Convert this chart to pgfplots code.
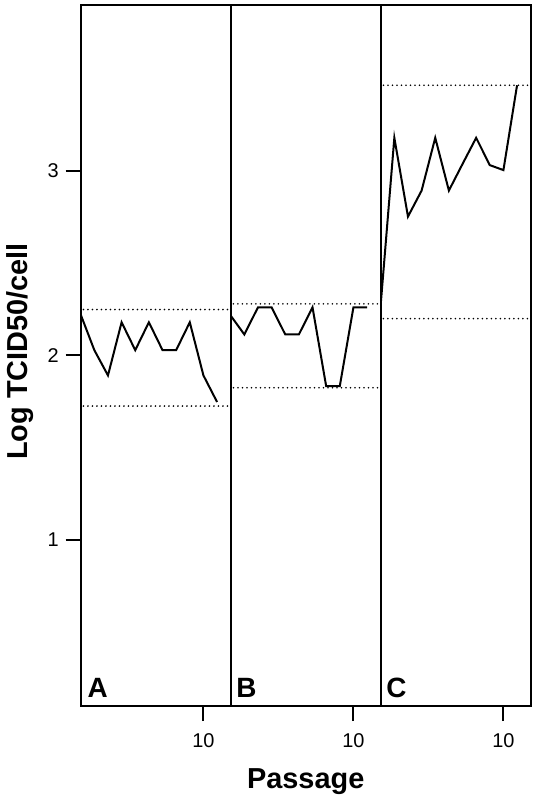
\documentclass[border=0pt]{standalone}
\usepackage{pgfplots}
\pgfplotsset{compat=1.18}
\usepgfplotslibrary{groupplots}
\usepackage{fontspec}
\setmainfont{Liberation Sans}

\pgfplotsset{
  panel/.style={
    scale only axis, width=75bp, height=350.5bp,
    xmin=1, xmax=12, ymin=0.1, ymax=3.9,
    xtick={10}, xticklabels={10},
    tick align=outside, major tick length=7.5bp,
    xtick pos=bottom, ytick pos=left,
    axis line style={line width=1bp},
    every tick/.style={black, line width=1bp},
    tick label style={font=\fontsize{10}{11}\selectfont},
    /pgf/number format/assume math mode=true,
    xticklabel style={yshift=-3bp},
  },
}
\tikzset{
  series/.style={black, line width=1bp, line join=miter, mark=none},
  band/.style={black, line width=0.9bp, line cap=round,
    dash pattern=on 0bp off 2.25bp, mark=none},
  tag/.style={font=\bfseries\fontsize{14}{16}\selectfont, anchor=base west,
    inner sep=0pt},
}

\begin{document}
\begin{tikzpicture}
\begin{groupplot}[
  group style={group size=3 by 1, horizontal sep=0pt},
  panel,
]
% A
\nextgroupplot[ytick={1,2,3}, yticklabels={1,2,3}]
\addplot[band] coordinates {(1.2,2.249) (12,2.249)};
\addplot[band] coordinates {(1.2,1.726) (12,1.726)};
\addplot[series] coordinates {
  (1,2.222) (2,2.029) (3,1.892) (4,2.180) (5,2.029) (6,2.180)
  (7,2.029) (8,2.029) (9,2.180) (10,1.892) (11,1.748)};
\node[tag] at (rel axis cs:0,0) [xshift=3.3bp, yshift=4.5bp] {A};

% B
\nextgroupplot[ytick=\empty]
\addplot[band] coordinates {(1.2,2.280) (12,2.280)};
\addplot[band] coordinates {(1.2,1.825) (12,1.825)};
\addplot[series] coordinates {
  (1,2.216) (2,2.114) (3,2.261) (4,2.261) (5,2.114) (6,2.114)
  (7,2.261) (8,1.834) (9,1.834) (10,2.261) (11,2.261)};
\node[tag] at (rel axis cs:0,0) [xshift=2.6bp, yshift=4.5bp] {B};

% C
\nextgroupplot[ytick=\empty]
\addplot[band] coordinates {(1.2,3.465) (12,3.465)};
\addplot[band] coordinates {(1.2,2.200) (12,2.200)};
\addplot[series] coordinates {
  (1,2.276) (2,3.180) (3,2.753) (4,2.894) (5,3.180) (6,2.894)
  (7,3.038) (8,3.180) (9,3.032) (10,3.005) (11,3.465)};
\node[tag] at (rel axis cs:0,0) [xshift=2.6bp, yshift=4.5bp] {C};
\end{groupplot}

\node[font=\bfseries\fontsize{14.5}{16}\selectfont, rotate=90, anchor=base]
  at ([xshift=-26.6bp, yshift=2bp]group c1r1.west) {Log TCID50/cell};
\node[font=\bfseries\fontsize{14.5}{16}\selectfont, anchor=base]
  at ([yshift=-41bp]group c2r1.south) {Passage};

\pgfresetboundingbox
\path (group c1r1.south west) ++(-40.35bp,353bp) rectangle ++(268.5bp,-400bp);
\end{tikzpicture}
\end{document}
